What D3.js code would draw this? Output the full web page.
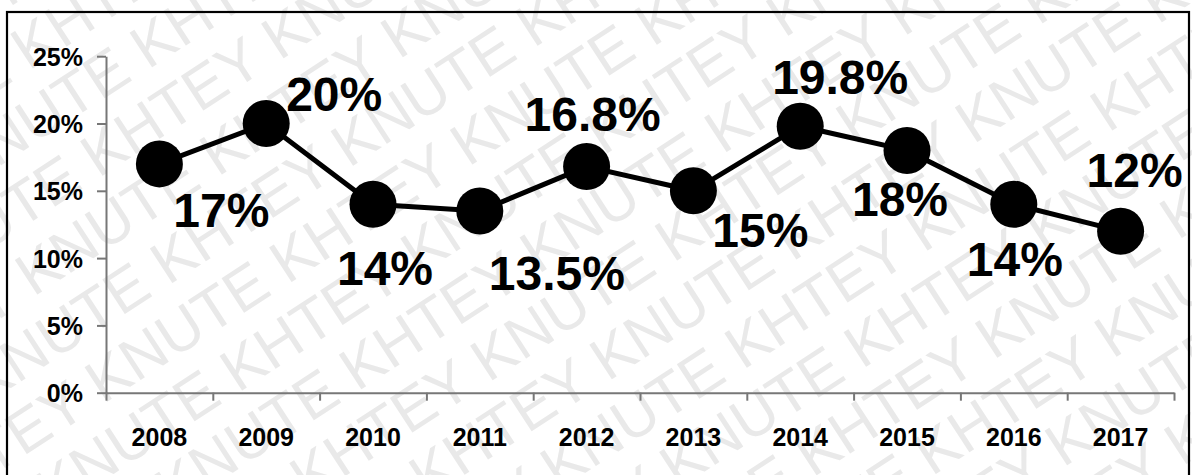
<!DOCTYPE html>
<html>
<head>
<meta charset="utf-8">
<script src="https://cdn.jsdelivr.net/npm/d3@7/dist/d3.min.js"></script>
<style>
  html, body { margin: 0; padding: 0; background: #fff; }
  svg { display: block; }
  text { font-family: "Liberation Sans", Arial, sans-serif; }
</style>
</head>
<body>
<svg id="chart" width="1192" height="475"></svg>
<script>
// ---- Data ----
const years = ["2008","2009","2010","2011","2012","2013","2014","2015","2016","2017"];
const values = [0.17, 0.20, 0.14, 0.135, 0.168, 0.15, 0.198, 0.18, 0.14, 0.12];
const valueLabels = ["17%","20%","14%","13.5%","16.8%","15%","19.8%","18%","14%","12%"];
const yTicks = [0, 0.05, 0.10, 0.15, 0.20, 0.25];
// label placement relative to each point (layout, not data)
const labelDx = [62, 68, 12, 77, 6, 67, 40, -7, 1, 14];
const labelDy = [63, -13, 81, 79, -36, 56, -32, 66, 72, -44];

const W = 1192, H = 475;
const svg = d3.select("#chart");

// ---- Watermark ----
const wm = svg.append("g").attr("transform", "rotate(-33, 596, 237)");
const wmWords = ["KHTEY", "KNUTE"];
for (let r = -12; r <= 12; r++) {
  let s = "";
  for (let k = 0; k < 14; k++) s += wmWords[(k + r + 100) % 2] + " ";
  wm.append("text")
    .attr("x", -560 + ((r % 2 + 2) % 2) * 115)
    .attr("y", 237 + r * 64)
    .attr("font-size", 60)
    .attr("fill", "#e9e9e9")
    .text(s);
}

// ---- Scales ----
const plotLeft = 106, plotRight = 1174, plotTop = 56.2, plotBottom = 392.7;
const x = d3.scaleBand().domain(years).range([plotLeft, plotRight]).padding(0);
const xb = d3.scaleLinear().domain([0, years.length]).range([plotLeft, plotRight]);
const y = d3.scaleLinear().domain([0, 0.25]).range([plotBottom, plotTop]);
const axisColor = "#777";

// ---- Y axis ----
const gy = svg.append("g").attr("transform", `translate(${plotLeft},0)`)
  .call(d3.axisLeft(y).tickValues(yTicks).tickSize(9).tickSizeOuter(0)
    .tickFormat(d3.format(".0%")));
gy.selectAll("path, line").attr("stroke", axisColor).attr("stroke-width", 2);
gy.selectAll("text").attr("x", -23).attr("dy", "0.36em")
  .attr("font-size", 25).attr("font-weight", "bold").attr("fill", "#000");

// ---- X axis (boundary ticks) ----
const gx = svg.append("g").attr("transform", `translate(0,${plotBottom})`)
  .call(d3.axisBottom(xb).tickValues(d3.range(years.length + 1)).tickSize(8)
    .tickSizeOuter(0).tickFormat(""));
gx.selectAll("path, line").attr("stroke", axisColor).attr("stroke-width", 2);

// ---- X labels ----
const gxl = svg.append("g").attr("transform", `translate(0,${plotBottom})`)
  .call(d3.axisBottom(x).tickSize(0));
gxl.select(".domain").remove();
gxl.selectAll("text").attr("y", 53).attr("dy", 0)
  .attr("font-size", 25).attr("font-weight", "bold").attr("fill", "#000");

// ---- Line ----
const pts = years.map((yr, i) => ({ yr, v: values[i], lab: valueLabels[i], dx: labelDx[i], dy: labelDy[i] }));
const cx = d => x(d.yr) + x.bandwidth() / 2;
svg.append("path").datum(pts)
  .attr("fill", "none").attr("stroke", "#000").attr("stroke-width", 5)
  .attr("d", d3.line().x(cx).y(d => y(d.v)));

svg.selectAll("circle.pt").data(pts).enter().append("circle")
  .attr("class", "pt").attr("cx", cx).attr("cy", d => y(d.v)).attr("r", 23.5)
  .attr("fill", "#000");

svg.selectAll("text.lab").data(pts).enter().append("text")
  .attr("class", "lab")
  .attr("x", d => cx(d) + d.dx).attr("y", d => y(d.v) + d.dy)
  .attr("text-anchor", "middle").attr("font-size", 48).attr("font-weight", "bold")
  .attr("fill", "#000").text(d => d.lab);

// ---- Outer border ----
svg.append("rect").attr("x", 7).attr("y", 12).attr("width", 1182).attr("height", 470)
  .attr("fill", "none").attr("stroke", "#000").attr("stroke-width", 2.2);
</script>
</body>
</html>
